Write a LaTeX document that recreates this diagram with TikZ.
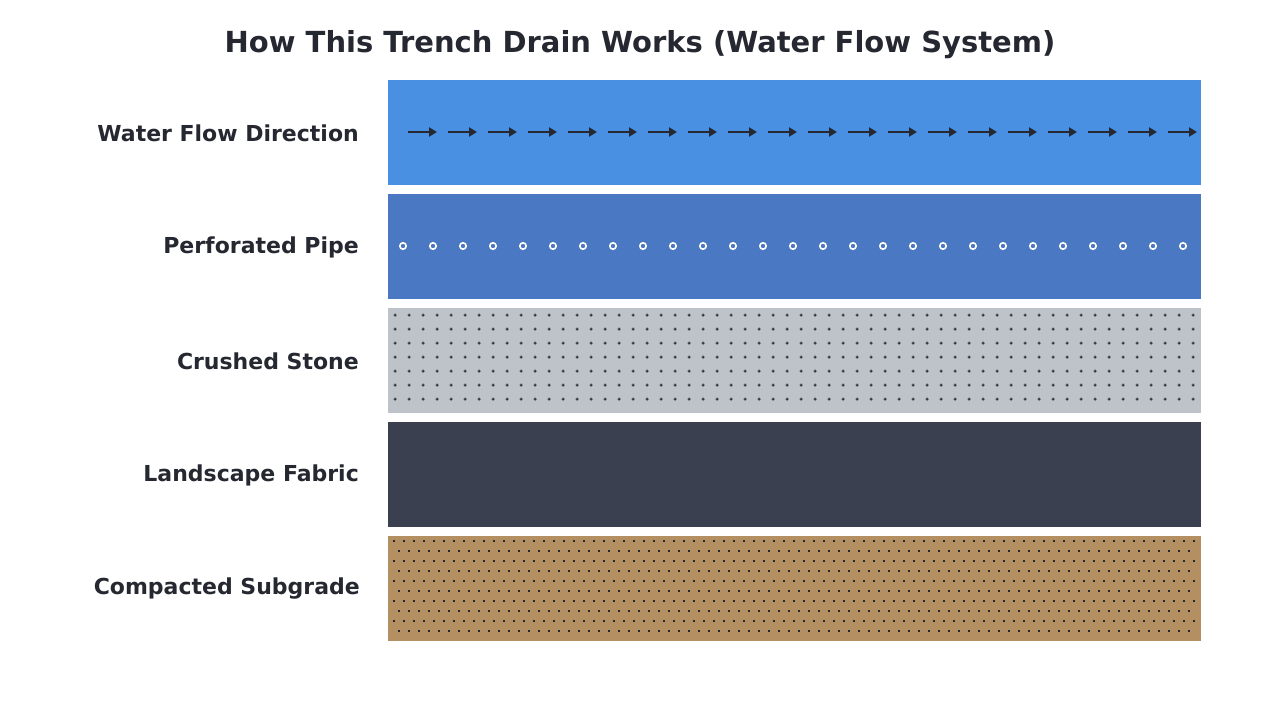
\documentclass[tikz,border=0pt]{standalone}
\usepackage{fontspec}
\setmainfont{DejaVu Sans}
\usetikzlibrary{arrows.meta}
\definecolor{txt}{HTML}{252830}
\definecolor{cflow}{HTML}{4A90E2}
\definecolor{cpipe}{HTML}{4A78C2}
\definecolor{cstone}{HTML}{BEC3CA}
\definecolor{cfab}{HTML}{3B4051}
\definecolor{csub}{HTML}{B38F62}
\tikzset{lbl/.style={anchor=east,text=txt,font=\bfseries\fontsize{22}{26}\selectfont,inner sep=0pt},
band/.style={draw=none,anchor=north west,minimum width=813pt,minimum height=105pt,inner sep=0pt}}
\begin{document}
\begin{tikzpicture}[x=1pt,y=-1pt]
\useasboundingbox[fill=white] (0,0) rectangle (1280,720);
\node[text=txt,font=\bfseries\fontsize{29}{34}\selectfont] (title) at (640,45) {How This Trench Drain Works (Water Flow System)};
\node[band,fill=cflow] (b1) at (388,80) {};
\node[band,fill=cpipe] (b2) at (388,194) {};
\node[band,fill=cstone] (b3) at (388,308) {};
\node[band,fill=cfab] (b4) at (388,422) {};
\node[band,fill=csub] (b5) at (388,536) {};
\node[lbl] (l1) at (359,133) {Water Flow Direction};
\node[lbl] (l2) at (359,247) {Perforated Pipe};
\node[lbl] (l3) at (359,361) {Crushed Stone};
\node[lbl] (l4) at (359,475) {Landscape Fabric};
\node[lbl] (l5) at (360,589) {Compacted Subgrade};
\foreach \i in {0,...,19}
  \draw[txt,line width=2pt,-{Triangle[length=8pt,width=9pt]}] (408+40*\i,132) -- (437+40*\i,132);
\foreach \i in {0,...,26}
  \draw[white,line width=1.6pt] (403+30*\i,246) circle (3.2);
\foreach \i in {0,...,57}
  \foreach \j in {0,...,6}
    \fill[txt] (395+14*\i-1.5,315+14*\j-0.5) rectangle ++(3,1)
               (395+14*\i-0.5,315+14*\j-1.5) rectangle ++(1,3);
\foreach \j in {0,...,9}{
  \pgfmathsetmacro{\off}{mod(\j,2)*5}
  \foreach \i in {0,...,80}{
    \pgfmathsetmacro{\xx}{394+\off+10*\i}
    \ifdim\xx pt<1199pt \fill[txt] (\xx-1,541+10*\j-1) rectangle ++(2,2);\fi
  }}
\end{tikzpicture}
\end{document}
